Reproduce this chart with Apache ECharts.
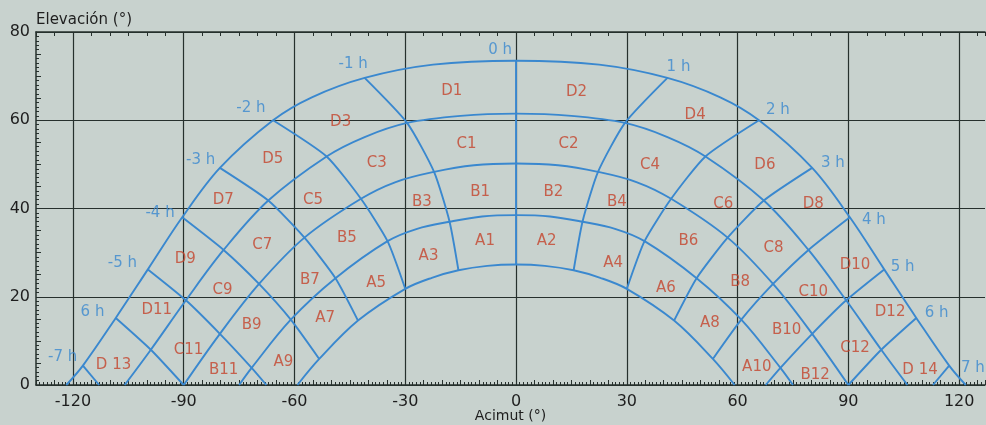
<!DOCTYPE html>
<html><head><meta charset="utf-8">
<script src="https://cdn.jsdelivr.net/npm/echarts@6/dist/echarts.min.js"></script>
<style>html,body{margin:0;padding:0;background:#c8d2ce}#c{width:986px;height:425px}</style>
</head><body><div id="c"></div>
<script>
// ---- axis ticks ----
const xTickValues = [-120, -90, -60, -30, 0, 30, 60, 90, 120];
const yTickValues = [0, 20, 40, 60, 80];

// ---- sun paths: points at each whole solar hour (-7 h ... 7 h), null = below horizon ----
const hours = [-7, -6, -5, -4, -3, -2, -1, 0, 1, 2, 3, 4, 5, 6, 7];
const arcD = [[-117.3,4.4],[-108.4,15.2],[-99.7,26.2],[-90.4,38.0],[-80.2,49.2],[-65.8,60.0],[-41.0,69.6],[0,73.5],[41.0,69.6],[65.8,60.0],[80.2,49.2],[90.4,38.0],[99.7,26.2],[108.4,15.2],[117.3,4.4]];
const arcC = [null,[-98.9,8.0],[-89.4,19.2],[-79.2,30.6],[-67.1,41.8],[-51.3,51.8],[-29.5,59.4],[0,61.5],[29.5,59.4],[51.3,51.8],[67.1,41.8],[79.2,30.6],[89.4,19.2],[98.9,8.0],null];
const arcB = [null,[-90,0],[-80.2,11.6],[-69.6,22.9],[-57.3,33.4],[-42.0,42.2],[-22.2,48.3],[0,50.2],[22.2,48.3],[42.0,42.2],[57.3,33.4],[69.6,22.9],[80.2,11.6],[90,0],null];
const arcA1 = [null,null,[-71.6,3.9],[-61.0,14.8],[-48.9,24.2],[-34.8,32.6],[-18.0,37.0],[0,38.5],[18.0,37.0],[34.8,32.6],[48.9,24.2],[61.0,14.8],[71.6,3.9],null,null];
const arcA2 = [null,null,null,[-53.3,5.9],[-42.8,14.6],[-30.0,21.8],[-15.6,26.0],[0,27.3],[15.6,26.0],[30.0,21.8],[42.8,14.6],[53.3,5.9],null,null,null];

// extra shape points of each sun path (horizon ends and half hours)
const extraD = [[-121.8,0],[-55.3,65.2],[-22.5,72.6],[22.5,72.6],[55.3,65.2],[121.8,0]];
const extraC = [[-106.0,0],[-41.0,56.2],[-15.0,61.0],[15.0,61.0],[41.0,56.2],[106.0,0]];
const extraB = [[-32.6,46.0],[-11.4,49.8],[11.4,49.8],[32.6,46.0]];
const extraA1 = [[-75.0,0],[-26.8,35.4],[-9.2,38.2],[9.2,38.2],[26.8,35.4],[75.0,0]];
const extraA2 = [[-59.2,0],[-22.8,24.3],[-7.8,27.0],[7.8,27.0],[22.8,24.3],[59.2,0]];

// where an hour line meets the horizon (if it does not end on a sun path)
const hourHorizon = [[-112.9,0],null,[-67.6,0],null,null,null,null,null,null,null,null,null,[67.6,0],null,[112.9,0]];

// ---- hour labels ----
const hourLabelText = ['-7 h','6 h','-5 h','-4 h','-3 h','-2 h','-1 h','0 h','1 h','2 h','3 h','4 h','5 h','6 h','7 h'];
const hourLabelPos = [[-122.8,6.4],[-114.7,16.6],[-106.6,27.6],[-96.4,38.9],[-85.4,50.9],[-71.8,62.7],[-44.1,72.8],[-4.3,75.9],[44.0,72.1],[70.9,62.3],[85.8,50.2],[96.9,37.4],[104.7,26.8],[113.9,16.2],[123.7,3.8]];

// ---- zone labels ----
const zoneNames = ['D1','D2','D3','D4','C1','C2','C3','C4','D5','D6','B1','B2','B3','B4','C5','C6','D7','D8','A1','A2','A3','A4','B5','B6','C7','C8','D9','D10','A5','A6','B7','B8','C9','C10','D11','D12','A7','A8','B9','B10','C11','C12','D 13','D 14','A9','A10','B11','B12'];
const zonePos = [[-17.4,66.7],[16.4,66.4],[-47.5,59.6],[48.5,61.1],[-13.4,54.7],[14.2,54.7],[-37.7,50.2],[36.3,49.8],[-65.9,51.1],[67.4,49.8],[-9.7,43.8],[10.1,43.8],[-25.5,41.5],[27.3,41.5],[-55.0,41.9],[56.1,41.1],[-79.3,42.0],[80.5,41.1],[-8.4,32.5],[8.3,32.5],[-23.7,29.1],[26.3,27.6],[-45.8,33.2],[46.7,32.5],[-68.7,31.6],[69.7,31.0],[-89.6,28.5],[91.8,27.2],[-37.9,23.1],[40.6,21.9],[-55.8,23.8],[60.7,23.4],[-79.5,21.5],[80.5,21.1],[-97.3,17.0],[101.3,16.6],[-51.7,15.1],[52.5,14.0],[-71.6,13.6],[73.3,12.5],[-88.7,7.9],[91.8,8.3],[-109.0,4.5],[109.4,3.4],[-63.0,5.1],[65.2,4.1],[-79.2,3.4],[81.0,2.3]];

// ---- styles ----
const BLUE = '#3a88cf';
const RED = '#c4442c';
const DARK = '#26302d';
const FONT = 'DejaVu Sans';

const arcs = [[arcD, extraD], [arcC, extraC], [arcB, extraB], [arcA1, extraA1], [arcA2, extraA2]];
const series = [];
arcs.forEach(([pts, extra]) => {
  const data = pts.filter(Boolean).concat(extra).sort((a, b) => a[0] - b[0]);
  series.push({ type: 'line', data, smooth: 0.35, showSymbol: false, silent: true,
    lineStyle: { color: BLUE, width: 1.9 }, z: 3 });
});
hours.forEach((h, k) => {
  const data = arcs.map(a => a[0][k]).filter(Boolean);
  if (hourHorizon[k]) data.push(hourHorizon[k]);
  series.push({ type: 'line', data, smooth: 0.2, showSymbol: false, silent: true,
    lineStyle: { color: BLUE, width: 1.9 }, z: 3 });
});
series.push({ type: 'scatter', symbolSize: 1, itemStyle: { color: 'rgba(0,0,0,0)' }, z: 5,
  data: zonePos.map((p, i) => ({ value: p, name: zoneNames[i] })),
  label: { show: true, position: 'inside', formatter: p => p.name, color: RED,
    fontFamily: FONT, fontSize: 15 } });
series.push({ type: 'scatter', symbolSize: 1, itemStyle: { color: 'rgba(0,0,0,0)' }, z: 5, clip: false,
  data: hourLabelPos.map((p, i) => ({ value: p, name: hourLabelText[i] })),
  label: { show: true, position: 'inside', formatter: p => p.name, color: BLUE,
    fontFamily: FONT, fontSize: 15 } });

const chart = echarts.init(document.getElementById('c'), null, { renderer: 'canvas' });
chart.setOption({
  backgroundColor: '#c8d2ce',
  animation: false,
  grid: { left: 36, right: 1, top: 32, bottom: 40, outerBoundsMode: 'none' },
  xAxis: [
    { type: 'value', min: -130, max: 127, position: 'bottom',
      name: 'Acimut (°)', nameLocation: 'middle', nameGap: 24, nameMoveOverlap: false,
      nameTextStyle: { color: '#1e1e1e', fontFamily: FONT, fontSize: 14, verticalAlign: 'top' },
      axisLine: { show: true, onZero: false, lineStyle: { color: DARK, width: 1.5 } },
      axisTick: { show: true, inside: true, length: 7, customValues: xTickValues, lineStyle: { color: DARK } },
      axisLabel: { customValues: xTickValues, color: '#1e1e1e', fontFamily: FONT, fontSize: 16, margin: 9 },
      splitLine: { show: true, lineStyle: { color: DARK, width: 1.2 } } },
    { type: 'value', min: -130, max: 127, interval: 1, position: 'bottom',
      axisLine: { show: false, onZero: false }, axisLabel: { show: false }, splitLine: { show: false },
      axisTick: { show: true, inside: true, length: 3, lineStyle: { color: DARK } } },
    { type: 'value', min: -130, max: 127, interval: 5, position: 'bottom',
      axisLine: { show: false, onZero: false }, axisLabel: { show: false }, splitLine: { show: false },
      axisTick: { show: true, inside: true, length: 5, lineStyle: { color: DARK } } },
    { type: 'value', min: -130, max: 127, interval: 5, position: 'top',
      axisLine: { show: true, onZero: false, lineStyle: { color: DARK, width: 1.5 } }, axisLabel: { show: false }, splitLine: { show: false },
      axisTick: { show: true, inside: true, length: 4, lineStyle: { color: DARK } } }
  ],
  yAxis: [
    { type: 'value', min: 0, max: 80, interval: 20, position: 'left',
      name: 'Elevación (°)', nameLocation: 'end', nameGap: 4,
      nameTextStyle: { color: '#1e1e1e', fontFamily: FONT, fontSize: 15, align: 'left', verticalAlign: 'bottom' },
      axisLine: { show: true, onZero: false, lineStyle: { color: DARK, width: 1.5 } },
      axisTick: { show: true, inside: true, length: 7, lineStyle: { color: DARK } },
      axisLabel: { color: '#1e1e1e', fontFamily: FONT, fontSize: 16, margin: 6 },
      splitLine: { show: true, lineStyle: { color: DARK, width: 1.2 } } },
    { type: 'value', min: 0, max: 80, interval: 1, position: 'left',
      axisLine: { show: false, onZero: false }, axisLabel: { show: false }, splitLine: { show: false },
      axisTick: { show: true, inside: true, length: 3, lineStyle: { color: DARK } } },
    { type: 'value', min: 0, max: 80, interval: 5, position: 'left',
      axisLine: { show: false, onZero: false }, axisLabel: { show: false }, splitLine: { show: false },
      axisTick: { show: true, inside: true, length: 5, lineStyle: { color: DARK } } }
  ],
  series
});
</script></body></html>
